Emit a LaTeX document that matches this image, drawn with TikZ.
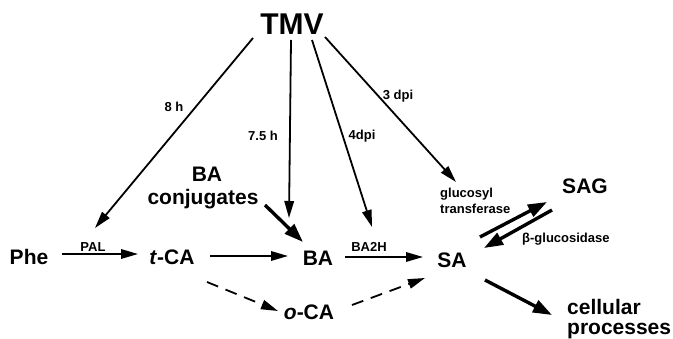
\documentclass[tikz,border=0pt]{standalone}
\usepackage{fontspec}
\setmainfont{Liberation Sans}
\usetikzlibrary{arrows.meta}
\begin{document}
\begin{tikzpicture}[x=1pt,y=-1pt,
  big/.style={font=\bfseries\fontsize{21}{21}\selectfont, inner sep=0, anchor=base},
  huge/.style={font=\bfseries\fontsize{30}{30}\selectfont, inner sep=0, anchor=base},
  sm/.style={font=\bfseries\fontsize{13}{13}\selectfont, inner sep=0, anchor=base},
  arr/.style={line width=1.8pt, -{Triangle[length=17pt,width=9.5pt]}},
  darr/.style={arr, dash pattern=on 12pt off 8pt},
  barr/.style={line width=3.4pt, -{Triangle[length=19pt,width=13pt]}}
]
\useasboundingbox (0,0) rectangle (673,339);
% main nodes
\node[huge] (TMV) at (292,35) {TMV};
\node[big] (Phe) at (29,265) {Phe};
\node[big] (tCA) at (172,265) {\textit{t}-CA};
\node[big] (BA) at (318,266) {BA};
\node[big] (SA) at (452,268) {SA};
\node[big] (oCA) at (309,320) {\textit{o}-CA};
\node[big] (SAG) at (585,194) {SAG};
\node[big] (BAc1) at (207,182) {BA};
\node[big] (BAc2) at (203,205) {conjugates};
\node[big, anchor=base west] (cell1) at (567,315) {cellular};
\node[big, anchor=base west] (cell2) at (567,335) {processes};
\node[sm, anchor=base west] (gt1) at (440,198) {glucosyl};
\node[sm, anchor=base west] (gt2) at (440,214) {transferase};
% small labels
\node[sm] (PAL) at (93,252) {PAL};
\node[sm] (BA2H) at (369,252) {BA2H};
\node[sm] (l8) at (174,112) {8 h};
\node[sm] (l75) at (263,141) {7.5 h};
\node[sm] (l4) at (362,140) {4dpi};
\node[sm] (l3) at (398,100) {3 dpi};
\node[sm, anchor=base west] (bg) at (522,243) {β-glucosidase};
% connector ends
\coordinate (t1s) at (253,38);  \coordinate (t1e) at (95,228);
\coordinate (t2s) at (291,40);  \coordinate (t2e) at (289,218);
\coordinate (t3s) at (312,40);  \coordinate (t3e) at (372,227);
\coordinate (t4s) at (325,37);  \coordinate (t4e) at (456,182);
\coordinate (p1) at (62,254);   \coordinate (p2) at (138,254);
\coordinate (q1) at (210,256);  \coordinate (q2) at (288,256);
\coordinate (r1) at (345,257);  \coordinate (r2) at (423,257);
\coordinate (c1) at (265,205);  \coordinate (c2) at (303,242);
\coordinate (d1) at (207,282);  \coordinate (d2) at (278,311);
\coordinate (e1) at (352,305);  \coordinate (e2) at (425,278);
\coordinate (g1) at (480,237);  \coordinate (g2) at (547,202);
\coordinate (h1) at (552,210);  \coordinate (h2) at (484,248);
\coordinate (k1) at (485,280);  \coordinate (k2) at (552,315);
% connectors
\draw[arr] (t1s) -- (t1e);
\draw[arr] (t2s) -- (t2e);
\draw[arr] (t3s) -- (t3e);
\draw[arr] (t4s) -- (t4e);
\draw[arr] (p1) -- (p2);
\draw[arr] (q1) -- (q2);
\draw[arr] (r1) -- (r2);
\draw[barr] (c1) -- (c2);
\draw[darr] (d1) -- (d2);
\draw[darr] (e1) -- (e2);
\draw[barr] (g1) -- (g2);
\draw[barr] (h1) -- (h2);
\draw[barr] (k1) -- (k2);
\end{tikzpicture}
\end{document}
